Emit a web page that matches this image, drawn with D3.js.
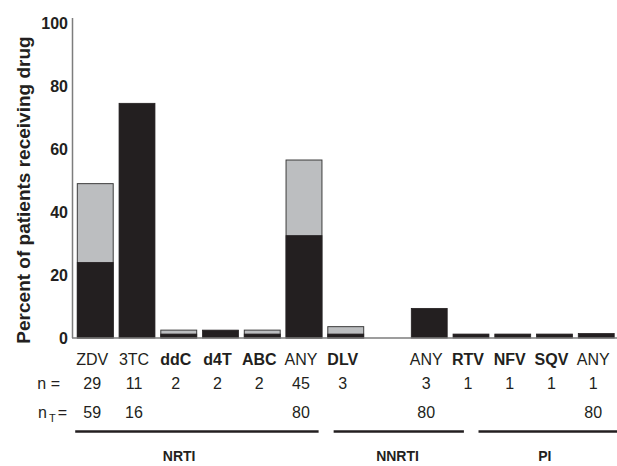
<!DOCTYPE html>
<html>
<head>
<meta charset="utf-8">
<title>Percent of patients receiving drug</title>
<script src="https://cdn.jsdelivr.net/npm/d3@7"></script>
<style>
  body { margin: 0; background: #fff; }
  svg { font-family: "Liberation Sans", Arial, Helvetica, sans-serif; }
</style>
</head>
<body>
<div id="chart"></div>
<script>
/* ---- data ---- */
var labels   = ["ZDV", "3TC", "ddC", "d4T", "ABC", "ANY", "DLV", "", "ANY", "RTV", "NFV", "SQV", "ANY"];
var boldLab  = [false, false, true, true, true, false, true, false, false, true, true, true, false];
var blackVal = [24, 74.5, 1.25, 2.5, 1.25, 32.5, 1.25, null, 9.4, 1.25, 1.25, 1.25, 1.4];
var totalVal = [49, 74.5, 2.5, 2.5, 2.5, 56.5, 3.6, null, 9.4, 1.25, 1.25, 1.25, 1.4];
var nVal     = ["29", "11", "2", "2", "2", "45", "3", "", "3", "1", "1", "1", "1"];
var nTVal    = ["59", "16", "", "", "", "80", "", "", "80", "", "", "", "80"];
var yTicks   = [0, 20, 40, 60, 80, 100];
// group spans in slot units (0 = first bar)
var groupNames = ["NRTI", "NNRTI", "PI"];
var groupFrom  = [-0.05, 6.14, 9.61];
var groupTo    = [5.78, 9.26, 13.3];
var groupMid   = [2.44, 7.67, 11.2];

/* ---- layout ---- */
var width = 617, height = 466;
var black = "#231f20", grey = "#bcbec0", axisGrey = "#7d7d7d";

var svg = d3.select("#chart").append("svg")
    .attr("width", width)
    .attr("height", height);

var keys = labels.map(function(d, i) { return "c" + i; });

var x = d3.scaleBand()
    .domain(keys)
    .range([72, 619.5])
    .paddingInner(0.14)
    .paddingOuter(0.127);

var y = d3.scaleLinear()
    .domain([0, 100])
    .range([338, 23]);

var slot = function(s) { return x(keys[0]) + s * x.step(); };
var mid = function(i) { return x(keys[i]) + x.bandwidth() / 2 - 3; };

/* y axis */
svg.append("line")
    .attr("x1", 72.5).attr("x2", 72.5)
    .attr("y1", 18).attr("y2", y(0))
    .attr("stroke", axisGrey).attr("stroke-width", 1.5);

svg.append("g").selectAll("text")
    .data(yTicks).enter().append("text")
    .attr("x", 68)
    .attr("y", function(d) { return y(d); })
    .attr("dy", "0.36em")
    .attr("text-anchor", "end")
    .attr("font-size", 16)
    .attr("font-weight", "bold")
    .attr("fill", black)
    .text(function(d) { return d; });

svg.append("text")
    .attr("transform", "translate(30," + 190 + ") rotate(-90)")
    .attr("text-anchor", "middle")
    .attr("font-size", 19)
    .attr("font-weight", "bold")
    .attr("fill", black)
    .text("Percent of patients receiving drug");

/* bars */
var idx = d3.range(labels.length).filter(function(i) { return blackVal[i] != null; });

svg.append("g").selectAll("rect.total")
    .data(idx.filter(function(i) { return totalVal[i] > blackVal[i]; }))
    .enter().append("rect")
    .attr("x", function(i) { return x(keys[i]); })
    .attr("width", x.bandwidth())
    .attr("y", function(i) { return y(totalVal[i]); })
    .attr("height", function(i) { return y(0) - y(totalVal[i]); })
    .attr("fill", grey)
    .attr("stroke", "#3c3c3c")
    .attr("stroke-width", 1);

svg.append("g").selectAll("rect.black")
    .data(idx)
    .enter().append("rect")
    .attr("x", function(i) { return x(keys[i]); })
    .attr("width", x.bandwidth())
    .attr("y", function(i) { return y(blackVal[i]); })
    .attr("height", function(i) { return y(0) - y(blackVal[i]); })
    .attr("fill", black)
    .attr("stroke", black)
    .attr("stroke-width", 0.8);

/* baseline */
svg.append("line")
    .attr("x1", 72).attr("x2", width)
    .attr("y1", y(0)).attr("y2", y(0))
    .attr("stroke", axisGrey).attr("stroke-width", 1.5);

/* category labels */
svg.append("g").selectAll("text")
    .data(d3.range(labels.length)).enter().append("text")
    .attr("x", mid)
    .attr("y", 365)
    .attr("text-anchor", "middle")
    .attr("font-size", 16)
    .attr("font-weight", function(i) { return boldLab[i] ? "bold" : "normal"; })
    .attr("fill", black)
    .text(function(i) { return labels[i]; });

/* n rows */
svg.append("text")
    .attr("x", 60).attr("y", 389)
    .attr("text-anchor", "end")
    .attr("font-size", 16).attr("fill", black)
    .text("n =");

var nT = svg.append("text")
    .attr("x", 67).attr("y", 418)
    .attr("text-anchor", "end")
    .attr("font-size", 16).attr("fill", black);
nT.append("tspan").text("n");
nT.append("tspan").attr("font-size", 11).attr("dx", 2).attr("dy", 4).text("T");
nT.append("tspan").attr("dx", 2).attr("dy", -4).text("=");

svg.append("g").selectAll("text")
    .data(d3.range(labels.length)).enter().append("text")
    .attr("x", mid)
    .attr("y", 389)
    .attr("text-anchor", "middle")
    .attr("font-size", 16)
    .attr("fill", black)
    .text(function(i) { return nVal[i]; });

svg.append("g").selectAll("text")
    .data(d3.range(labels.length)).enter().append("text")
    .attr("x", mid)
    .attr("y", 418)
    .attr("text-anchor", "middle")
    .attr("font-size", 16)
    .attr("fill", black)
    .text(function(i) { return nTVal[i]; });

/* group brackets */
var groups = svg.append("g").selectAll("g")
    .data(d3.range(groupNames.length)).enter().append("g");

groups.append("line")
    .attr("x1", function(i) { return slot(groupFrom[i]); })
    .attr("x2", function(i) { return slot(groupTo[i]); })
    .attr("y1", 431.5).attr("y2", 431.5)
    .attr("stroke", black).attr("stroke-width", 2.5);

groups.append("text")
    .attr("x", function(i) { return slot(groupMid[i]); })
    .attr("y", 461)
    .attr("text-anchor", "middle")
    .attr("font-size", 14)
    .attr("font-weight", "bold")
    .attr("fill", black)
    .text(function(i) { return groupNames[i]; });
</script>
</body>
</html>
